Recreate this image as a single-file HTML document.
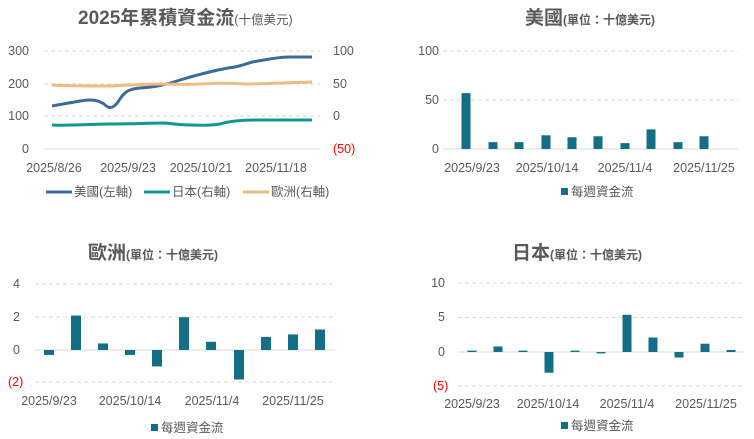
<!DOCTYPE html>
<html><head><meta charset="utf-8"><style>
body{margin:0;background:#fff;}
svg{display:block;font-family:"Liberation Sans","Noto Sans CJK TC",sans-serif;}
.t{fill:#595959;font-size:12.5px;}
.r{fill:#ff0000;font-size:12.5px;}
.g{stroke:#d9d9d9;stroke-dasharray:4 3;stroke-width:1;}
.ttl{fill:#595959;font-size:19px;font-weight:bold;}
.sub{fill:#595959;font-size:12px;font-weight:bold;}
</style></head><body>
<svg id="s" width="754" height="439" viewBox="0 0 754 439">
<text x="78" y="24" class="ttl">2025年累積資金流<tspan style="font-size:12.5px;font-weight:normal">(十億美元)</tspan></text>
<line class="g" x1="44" x2="320" y1="51" y2="51"/>
<line class="g" x1="44" x2="320" y1="84" y2="84"/>
<line class="g" x1="44" x2="320" y1="116" y2="116"/>
<line x1="44" x2="320" y1="149" y2="149" stroke="#d9d9d9"/>
<g class="t" text-anchor="end"><text x="29" y="55">300</text><text x="29" y="88">200</text><text x="29" y="120">100</text><text x="29" y="153">0</text></g>
<g class="t"><text x="333" y="55">100</text><text x="333" y="88">50</text><text x="333" y="120">0</text></g>
<text x="333" y="153" class="r">(50)</text>
<g class="t" text-anchor="middle"><text x="54" y="172">2025/8/26</text><text x="128" y="172">2025/9/23</text><text x="201" y="172">2025/10/21</text><text x="276" y="172">2025/11/18</text></g>
<path d="M52,106 C62,104 70,103 80,101 C92,99 98,100 104,104 C108,108 112,110 118,102 C124,92 128,89 140,88 C155,87 165,85 180,80 C200,74 212,71 228,68 C245,66 248,62 258,61 C270,59 278,57 290,57 L312,57" fill="none" stroke="#3d6b99" stroke-width="3"/>
<path d="M52,125 C70,126 90,124 110,124 C130,124 150,123 165,123 C175,124 180,125 190,125 C200,125 210,126 220,124 C230,121 240,120 255,120 C275,120 290,120 312,120" fill="none" stroke="#12988e" stroke-width="3"/>
<path d="M52,85 C70,86 90,86 110,86 C130,85 145,84 160,84 C175,84 190,85 200,84 C215,83 230,83 245,84 C260,84 280,83 312,82" fill="none" stroke="#f0bb80" stroke-width="3"/>
<line x1="46" x2="72" y1="192" y2="192" stroke="#3d6b99" stroke-width="3"/><text x="74" y="196" class="t">美國(左軸)</text>
<line x1="144" x2="170" y1="192" y2="192" stroke="#12988e" stroke-width="3"/><text x="172" y="196" class="t">日本(右軸)</text>
<line x1="243" x2="269" y1="192" y2="192" stroke="#f0bb80" stroke-width="3"/><text x="271" y="196" class="t">歐洲(右軸)</text>

<text x="525" y="24" class="ttl">美國<tspan class="sub">(單位：十億美元)</tspan></text>
<line class="g" x1="443" x2="738" y1="51" y2="51"/>
<line class="g" x1="443" x2="738" y1="100" y2="100"/>
<line x1="443" x2="738" y1="149" y2="149" stroke="#d9d9d9"/>
<g class="t" text-anchor="end"><text x="439" y="55">100</text><text x="439" y="104">50</text><text x="439" y="153">0</text></g>
<g class="t" text-anchor="middle"><text x="472" y="172">2025/9/23</text><text x="547" y="172">2025/10/14</text><text x="625" y="172">2025/11/4</text><text x="704" y="172">2025/11/25</text></g>
<rect x="561" y="188" width="7" height="7" fill="#126f86"/><text x="571" y="196" class="t">每週資金流</text>

<text x="88" y="259" class="ttl">歐洲<tspan class="sub">(單位：十億美元)</tspan></text>
<line class="g" x1="35" x2="335" y1="284" y2="284"/>
<line class="g" x1="35" x2="335" y1="317" y2="317"/>
<line x1="35" x2="335" y1="350" y2="350" stroke="#d9d9d9"/>
<line class="g" x1="35" x2="335" y1="382" y2="382"/>
<g class="t" text-anchor="end"><text x="20" y="288">4</text><text x="20" y="321">2</text><text x="20" y="354">0</text></g>
<text x="8" y="386" class="r">(2)</text>
<g class="t" text-anchor="middle"><text x="49" y="405">2025/9/23</text><text x="130" y="405">2025/10/14</text><text x="212" y="405">2025/11/4</text><text x="293" y="405">2025/11/25</text></g>
<rect x="151" y="424" width="7" height="7" fill="#126f86"/><text x="161" y="432" class="t">每週資金流</text>

<text x="512" y="259" class="ttl">日本<tspan class="sub">(單位：十億美元)</tspan></text>
<line class="g" x1="458" x2="743" y1="283" y2="283"/>
<line class="g" x1="458" x2="743" y1="317.5" y2="317.5"/>
<line x1="458" x2="743" y1="352" y2="352" stroke="#d9d9d9"/>
<line class="g" x1="458" x2="743" y1="386" y2="386"/>
<g class="t" text-anchor="end"><text x="445" y="287">10</text><text x="445" y="321">5</text><text x="445" y="356">0</text></g>
<text x="433" y="390" class="r">(5)</text>
<g class="t" text-anchor="middle"><text x="472" y="408">2025/9/23</text><text x="548" y="408">2025/10/14</text><text x="627" y="408">2025/11/4</text><text x="706" y="408">2025/11/25</text></g>
<rect x="561" y="422" width="7" height="7" fill="#126f86"/><text x="571" y="430" class="t">每週資金流</text>
</svg>
<script>
var s=document.getElementById('s'),NS='http://www.w3.org/2000/svg';
function bars(xs,vs,zero,scale,w){xs.forEach(function(x,i){var v=vs[i],h=Math.abs(v*scale),r=document.createElementNS(NS,'rect');
r.setAttribute('x',x-w/2);r.setAttribute('y',v>=0?zero-h:zero);r.setAttribute('width',w);r.setAttribute('height',Math.max(h,1));r.setAttribute('fill','#126f86');s.appendChild(r);});}
bars([466,493,519,546,572,598,625,651,678,704],[57,7,7,14,12,13,6,20,7,13],149,0.98,9);
bars([49,76,103,130,157,184,211,239,266,293,320],[-0.3,2.1,0.4,-0.3,-1.0,2.0,0.5,-1.8,0.8,0.95,1.25],350,16.4,10);
bars([472,498,523,549,575,601,627,653,679,705,731],[0.2,0.8,0.2,-3,0.2,-0.2,5.4,2.1,-0.8,1.2,0.3],352,6.9,9);
</script>
</body></html>
